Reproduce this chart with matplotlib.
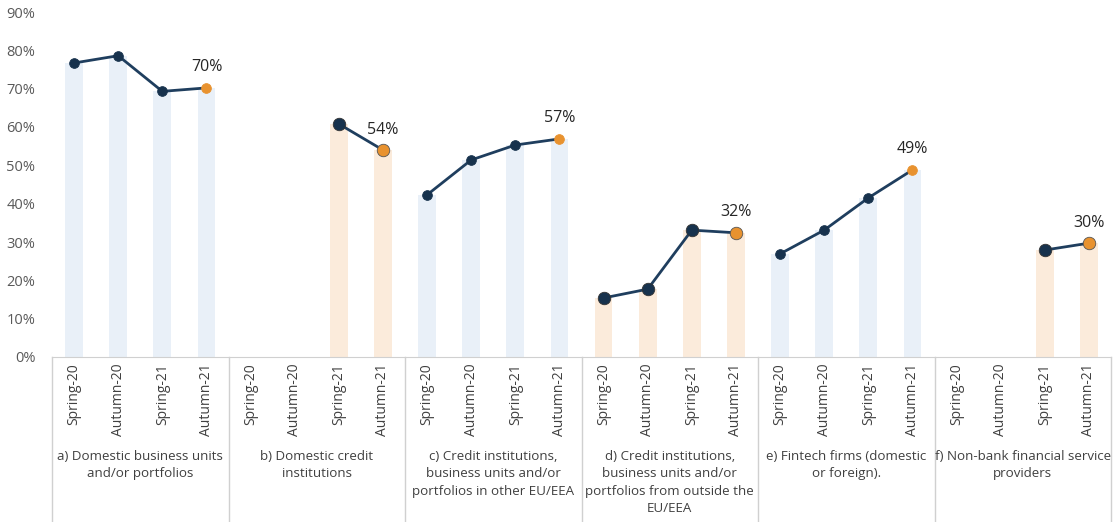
import numpy as np
import matplotlib
matplotlib.use("Agg")
import matplotlib.pyplot as plt
from matplotlib.transforms import blended_transform_factory

# ── data ──────────────────────────────────────────────────────────────────────
periods = ["Spring-20", "Autumn-20", "Spring-21", "Autumn-21"]
groups = [
    "a) Domestic business units\nand/or portfolios",
    "b) Domestic credit\ninstitutions",
    "c) Credit institutions,\nbusiness units and/or\nportfolios in other EU/EEA",
    "d) Credit institutions,\nbusiness units and/or\nportfolios from outside the\nEU/EEA",
    "e) Fintech firms (domestic\nor foreign).",
    "f) Non-bank financial service\nproviders",
]
vals_a = [76.7, 78.6, 69.3, 70.2]
vals_b = [np.nan, np.nan, 60.8, 54.0]
vals_c = [42.3, 51.4, 55.3, 56.9]
vals_d = [15.4, 17.7, 33.1, 32.4]
vals_e = [26.9, 33.1, 41.5, 48.8]
vals_f = [np.nan, np.nan, 27.9, 29.7]
series = [vals_a, vals_b, vals_c, vals_d, vals_e, vals_f]
bar_kind = ["blue", "orange", "blue", "orange", "blue", "orange"]

# ── style ─────────────────────────────────────────────────────────────────────
plt.rcParams["font.family"] = ["Open Sans", "DejaVu Sans"]
BAR = {"blue": "#E9F0F8", "orange": "#FBEBDB"}
LINE = "#1F3E5E"
DOT = "#17324D"
LAST = "#E8922F"
GREY = "#595959"

fig = plt.figure(figsize=(11.13, 5.22), dpi=100)
ax = fig.add_axes([52 / 1113, 165 / 522, (1111 - 52) / 1113, (357 - 12) / 522])

n = len(periods)
xmax = len(groups) * n
trans = blended_transform_factory(ax.transData, ax.transAxes)

for g, (vals, kind) in enumerate(zip(series, bar_kind)):
    x = np.arange(n) + g * n + 0.5
    v = np.array(vals, dtype=float)
    ok = ~np.isnan(v)
    ax.bar(x[ok], v[ok], width=0.4, color=BAR[kind], zorder=1)
    big = kind == "orange"
    ms = 9 if big else 7
    ax.plot(x[ok], v[ok], color=LINE, lw=2, zorder=2)
    ax.plot(x[ok][:-1], v[ok][:-1], "o", color=DOT, ms=ms, zorder=3,
            mec="#333333" if big else DOT, mew=0.6)
    ax.plot(x[ok][-1], v[ok][-1], "o", color=LAST, ms=ms, zorder=3,
            mec="#555555" if big else LAST, mew=0.6)
    ax.annotate(f"{v[ok][-1]:.0f}%", (x[ok][-1], v[ok][-1]),
                xytext=(0, 9), textcoords="offset points",
                ha="center", va="bottom", fontsize=11.5, color="#262626")
    # period labels
    for xi, p in zip(x, periods):
        ax.text(xi, -0.018, p, transform=trans, rotation=90, ha="center",
                va="top", fontsize=10, color="#404040")
    # group label
    ax.text(g * n + n / 2, -0.27, groups[g], transform=trans, ha="center",
            va="top", fontsize=9.6, color="#404040", linespacing=1.42)

# group separators
for g in range(len(groups) + 1):
    ax.plot([g * n, g * n], [0, -0.48], transform=trans, color="#D0D0D0",
            lw=1, clip_on=False)

ax.set_xlim(0, xmax)
ax.set_ylim(0, 90)
ax.set_yticks(np.arange(0, 91, 10))
ax.set_yticklabels([f"{t}%" for t in range(0, 91, 10)], color=GREY, fontsize=10.5)
ax.set_xticks([])
ax.tick_params(axis="y", length=0, pad=12)
for s in ["top", "right", "left"]:
    ax.spines[s].set_visible(False)
ax.spines["bottom"].set_color("#D0D0D0")

fig.savefig("out.png", dpi=100)
